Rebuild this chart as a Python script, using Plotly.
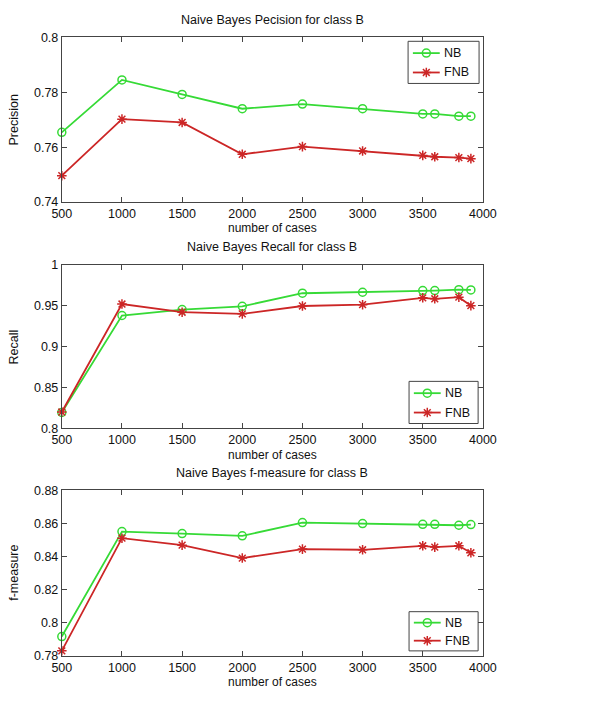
import plotly.graph_objects as go

# Training-set sizes (x axis)
cases = [500, 1000, 1500, 2000, 2500, 3000, 3500, 3600, 3800, 3900]

# Precision for class B
precision_nb = [0.7654, 0.7845, 0.7792, 0.7740, 0.7757, 0.7740, 0.7721, 0.7721, 0.7713, 0.7713]
precision_fnb = [0.7496, 0.7702, 0.7690, 0.7574, 0.7602, 0.7586, 0.7570, 0.7565, 0.7562, 0.7558]

# Recall for class B
recall_nb = [0.8195, 0.9380, 0.9452, 0.9492, 0.9652, 0.9664, 0.9684, 0.9684, 0.9696, 0.9692]
recall_fnb = [0.8200, 0.9520, 0.9420, 0.9400, 0.9496, 0.9512, 0.9596, 0.9584, 0.9604, 0.9500]

# f-measure for class B
fmeasure_nb = [0.7916, 0.8550, 0.8538, 0.8524, 0.8604, 0.8598, 0.8594, 0.8594, 0.8588, 0.8592]
fmeasure_fnb = [0.7830, 0.8510, 0.8468, 0.8390, 0.8444, 0.8440, 0.8464, 0.8456, 0.8464, 0.8422]

titles = ["Naive Bayes Pecision for class B",
          "Naive Bayes Recall for class B",
          "Naive Bayes f-measure for class B"]
ylabels = ["Precision", "Recall", "f-measure"]
yranges = [(0.74, 0.80), (0.80, 1.0), (0.78, 0.88)]
ydticks = [0.02, 0.05, 0.02]
series = [(precision_nb, precision_fnb), (recall_nb, recall_fnb), (fmeasure_nb, fmeasure_fnb)]

W, H = 589, 701
GREEN = "#36da36"
RED = "#cc2626"
FONT = "Liberation Sans, Arial, sans-serif"

# Axes boxes in pixels: (top, bottom)
x_left, x_right = 54, 493
boxes = [(31, 199), (263, 430), (493, 662)]
legend_boxes = [(415, 35, 489, 78), (416, 382, 488, 425), (416, 617, 488, 657)]

fig = go.Figure()
annotations = []
shapes = []


def py(px):
    return 1 - px / H


def pxx(px):
    return px / W


def label(text, x, y, size=12, angle=0, xanchor="center"):
    return dict(text=text, x=x, y=y, xref="paper", yref="paper", showarrow=False,
                xanchor=xanchor, yanchor="middle", textangle=angle,
                font=dict(family=FONT, size=size, color="#111"))


for i in range(3):
    xa = "x" if i == 0 else f"x{i+1}"
    ya = "y" if i == 0 else f"y{i+1}"
    nb, fnb = series[i]
    fig.add_trace(go.Scatter(
        x=cases, y=nb, mode="lines+markers", name="NB", showlegend=False,
        line=dict(color=GREEN, width=1.8),
        marker=dict(symbol="circle-open", size=8, color=GREEN, line=dict(width=1.5, color=GREEN)),
        xaxis=xa, yaxis=ya, cliponaxis=False))
    fig.add_trace(go.Scatter(
        x=cases, y=fnb, mode="lines+markers", name="FNB", showlegend=False,
        line=dict(color=RED, width=1.8),
        marker=dict(symbol="asterisk-open", size=8, color=RED, line=dict(width=1.5, color=RED)),
        xaxis=xa, yaxis=ya, cliponaxis=False))

    top, bot = boxes[i]
    axis_common = dict(showline=True, linecolor="#444", linewidth=1, mirror="allticks",
                       ticks="inside", ticklen=5, tickcolor="#444", showgrid=False,
                       zeroline=False, tickfont=dict(family=FONT, size=12.5, color="#111"))
    fig.layout[("xaxis" if i == 0 else f"xaxis{i+1}")] = dict(
        domain=[pxx(x_left), pxx(x_right)], anchor=ya, range=[500, 4000],
        tickvals=[500, 1000, 1500, 2000, 2500, 3000, 3500, 4000], **axis_common)
    fig.layout[("yaxis" if i == 0 else f"yaxis{i+1}")] = dict(
        domain=[py(bot), py(top)], anchor=xa, range=list(yranges[i]),
        dtick=ydticks[i], tick0=yranges[i][0], **axis_common)

    cx = pxx((x_left + x_right) / 2)
    annotations.append(label(titles[i], cx, py(top - 18), size=12.5))
    annotations.append(label("number of cases", cx, py(bot + 27)))
    annotations.append(label(ylabels[i], pxx(4), py((top + bot) / 2), size=12.5, angle=-90))

    # legend box: white fill beneath the data layer, frame and line samples above
    lx0, ly0, lx1, ly1 = legend_boxes[i]
    shapes.append(dict(type="rect", xref="paper", yref="paper",
                       x0=pxx(lx0), x1=pxx(lx1), y0=py(ly1), y1=py(ly0),
                       line=dict(width=0), fillcolor="white", layer="below"))
    shapes.append(dict(type="rect", xref="paper", yref="paper",
                       x0=pxx(lx0), x1=pxx(lx1), y0=py(ly1), y1=py(ly0),
                       line=dict(color="#444", width=1), fillcolor="rgba(0,0,0,0)", layer="above"))
    for j, (name, color) in enumerate([("NB", GREEN), ("FNB", RED)]):
        yy = ly0 + (ly1 - ly0) * (0.28 + 0.46 * j)
        shapes.append(dict(type="line", xref="paper", yref="paper",
                           x0=pxx(lx0 + 5), x1=pxx(lx0 + 33), y0=py(yy), y1=py(yy),
                           line=dict(color=color, width=1.8), layer="above"))
        annotations.append(label(name, pxx(lx0 + 35), py(yy), size=12.5, xanchor="left"))

# legend markers on a full-page helper axis
leg_x, leg_y, leg_sym, leg_col = [], [], [], []
for i in range(3):
    lx0, ly0, lx1, ly1 = legend_boxes[i]
    for j, (color, sym) in enumerate([(GREEN, "circle-open"), (RED, "asterisk-open")]):
        yy = ly0 + (ly1 - ly0) * (0.28 + 0.46 * j)
        leg_x.append(pxx(lx0 + 19))
        leg_y.append(py(yy))
        leg_sym.append(sym)
        leg_col.append(color)
fig.add_trace(go.Scatter(x=leg_x, y=leg_y, mode="markers", showlegend=False,
                         marker=dict(symbol=leg_sym, size=8, color=leg_col,
                                     line=dict(width=1.5, color=leg_col)),
                         xaxis="x4", yaxis="y4", hoverinfo="skip", cliponaxis=False))
fig.layout["xaxis4"] = dict(domain=[0, 1], range=[0, 1], visible=False, anchor="y4")
fig.layout["yaxis4"] = dict(domain=[0, 1], range=[0, 1], visible=False, anchor="x4")

fig.update_layout(width=W, height=H, margin=dict(l=0, r=0, t=0, b=0),
                  paper_bgcolor="white", plot_bgcolor="rgba(0,0,0,0)",
                  annotations=annotations, shapes=shapes, showlegend=False)

fig.write_html("out.html")
